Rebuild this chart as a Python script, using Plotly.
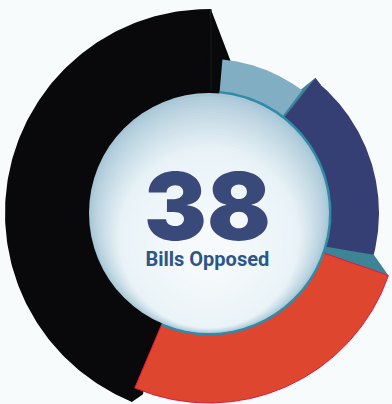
import numpy as np
import plotly.graph_objects as go

# Bills per position, read as shares of the 38 total, drawn clockwise from the top
bill_counts = [3.4, 7.6, 9.9, 17.1]
band_outer_radius = [154, 170, 190, 204]
band_colors = ["#82aec4", "#363f73", "#df4630", "#09090c"]
band_edges = ["#82aec4", "#363f73", "#e3163a", "#09090c"]

total_label = "38"
caption = "Bills Opposed"

START_DEG = 5.0
INNER_R = 120.0
WIDTH, HEIGHT = 392, 404
CX, CY = 209, 213
RIM = "#2f8ca8"
FACE = "#3c8496"
NAVY = "#39497a"


def polar(r, deg):
    a = np.radians(deg)
    return r * np.sin(a), r * np.cos(a)


def sector(r0, r1, a0, a1, n=160):
    t = np.linspace(a0, a1, n)
    xo, yo = polar(r1, t)
    xi, yi = polar(r0, t[::-1])
    return np.r_[xo, xi, xo[0]], np.r_[yo, yi, yo[0]]


def poly(points):
    xy = [polar(r, a) for r, a in points]
    return [p[0] for p in xy] + [xy[0][0]], [p[1] for p in xy] + [xy[0][1]]


def filled(x, y, fill, line=None, width=0):
    return go.Scatter(
        x=x, y=y, mode="lines", fill="toself", fillcolor=fill,
        line=dict(color=line or fill, width=width), hoverinfo="skip", showlegend=False,
    )


edges = START_DEG + np.r_[0, np.cumsum(bill_counts)] * 360 / sum(bill_counts)
fig = go.Figure()

# The long black band goes first: the others sit on top of its raised end
a0 = edges[3]
fig.add_trace(filled(*sector(INNER_R - 2, band_outer_radius[3], a0 - 0.8, 360.5), band_colors[3]))
fig.add_trace(filled(*poly([(204, 360.5), (154, 368), (118, 368), (118, 358)]), band_colors[3]))
fig.add_trace(filled(*poly([(band_outer_radius[3], a0 - 0.8), (193, a0 - 3), (150, a0), (band_outer_radius[3] - 3, a0 + 1)]), band_colors[3]))
fig.add_trace(go.Scatter(
    x=[2, 2], y=[122, 204], mode="lines", line=dict(color="#141c1c", width=1),
    hoverinfo="skip", showlegend=False,
))

# Side faces that give the bands their stepped depth
b = edges[1]
c = edges[2]
fig.add_trace(filled(*poly([(119, b - 0.5), (band_outer_radius[0], b - 0.5), (172, b + 1), (119, b + 2)]), FACE))
fig.add_trace(filled(*sector(INNER_R - 2, band_outer_radius[1], b + 1, c - 2.5), band_colors[1]))
fig.add_trace(filled(*poly([(172, b + 1), (170, b + 4), (119, b + 2)]), band_colors[1]))
fig.add_trace(filled(*poly([(119, c - 3), (band_outer_radius[1], c - 5), (band_outer_radius[2], c), (119, c + 0.5)]), FACE))

fig.add_trace(filled(*sector(INNER_R - 2, band_outer_radius[0], edges[0], edges[1]), band_colors[0]))
fig.add_trace(filled(*sector(INNER_R - 2, band_outer_radius[2], edges[2], edges[3]), band_colors[2], band_edges[2], 1))

# Teal rim round the disc on the coloured bands
fig.add_trace(filled(*sector(INNER_R - 1, INNER_R + 2.5, edges[0], edges[3]), RIM))

# Shaded centre disc: nested circles drifting towards a low highlight
steps = 60
edge_rgb = np.array([168, 198, 214])
mid_rgb = np.array([233, 243, 247])
core_rgb = np.array([247, 250, 252])
shapes = []
for i in range(steps):
    f = i / (steps - 1)
    r = INNER_R * (1 - 0.85 * f)
    oy = -min(f / 0.35, 1.0) * 30 - max(f - 0.35, 0) * 10
    if f < 0.3:
        rgb = edge_rgb + (mid_rgb - edge_rgb) * (f / 0.3) ** 0.8
    else:
        rgb = mid_rgb + (core_rgb - mid_rgb) * (f - 0.3) / 0.7
    shapes.append(dict(
        type="circle", xref="x", yref="y", layer="above",
        x0=-r, x1=r, y0=oy - r, y1=oy + r,
        fillcolor="rgb({:.0f},{:.0f},{:.0f})".format(*rgb), line=dict(width=0),
    ))

# One annotation holds both lines so they keep their spacing
centre_text = (
    f"<span style='font-size:94px;font-family:Inter;font-weight:900;color:{NAVY}'>{total_label}</span>"
    f"<br>{caption}"
)

fig.update_layout(
    width=WIDTH, height=HEIGHT, autosize=False,
    margin=dict(l=0, r=0, t=0, b=0),
    paper_bgcolor="#f8fbfc", plot_bgcolor="#f8fbfc",
    xaxis=dict(range=[-CX, WIDTH - CX], visible=False, fixedrange=True),
    yaxis=dict(range=[CY - HEIGHT, CY], visible=False, fixedrange=True),
    shapes=shapes,
    annotations=[
        dict(text=centre_text, x=-2, y=3, xref="x", yref="y", showarrow=False, align="center",
             font=dict(family="Roboto", size=20, color="#2c5688", weight=700)),
    ],
)

fig.write_html("out.html", config={"displayModeBar": False})
